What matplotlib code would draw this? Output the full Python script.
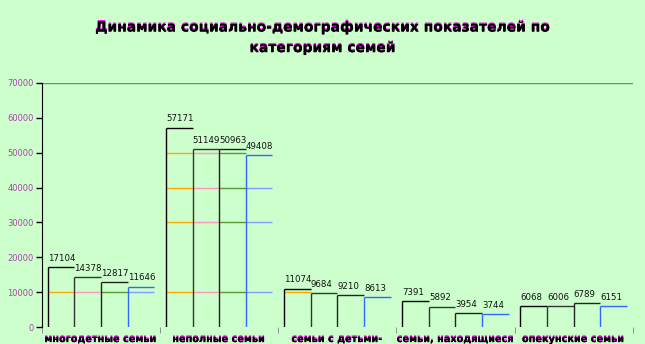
import numpy as np
import matplotlib.pyplot as plt
import matplotlib.patheffects as pe

# Данные
categories = ['многодетные семьи', 'неполные семьи', 'семьи с детьми-\nинвалидами',
              'семьи, находящиеся\nв СОП', 'опекунские семьи']
series_1 = [17104, 57171, 11074, 7391, 6068]
series_2 = [14378, 51149, 9684, 5892, 6006]
series_3 = [12817, 50963, 9210, 3954, 6789]
series_4 = [11646, 49408, 8613, 3744, 6151]
yticks = [0, 10000, 20000, 30000, 40000, 50000, 60000, 70000]

all_series = [series_1, series_2, series_3, series_4]
edge_colors = ['#000000', '#333333', '#222222', '#3366FF']
grid_colors = ['#FFAA00', '#FF99BB', '#559933', '#8899FF']
grid_levels = [10000, 30000, 40000, 50000]

bg = '#CCFFCC'
shadow = [pe.withSimplePatchShadow(offset=(0, 1), shadow_rgbFace='#FF00FF', alpha=1), pe.Normal()]

fig = plt.figure(figsize=(6.45, 3.44), dpi=100, facecolor=bg)
ax = fig.add_axes([0.065, 0.049, 0.916, 0.71])
ax.set_facecolor(bg)

x = np.arange(len(categories))
w = 0.225
for i, vals in enumerate(all_series):
    bars = ax.bar(x - 0.45 + i * w, vals, w, align='edge', fill=False, linewidth=0)
    for b, v in zip(bars, vals):
        x0 = b.get_x()
        x1 = x0 + b.get_width()
        # линии сетки, видимые внутри столбца
        for g in grid_levels:
            if g < v:
                ax.hlines(g, x0, x1, colors=grid_colors[i], lw=1)
        ax.vlines(x0, 0, v, colors=edge_colors[i], lw=1)
        ax.hlines(v, x0, x1, colors=edge_colors[i], lw=1)
        ax.annotate(str(v), (x0, v), xytext=(0, 3), textcoords='offset points',
                    ha='left', va='bottom', fontsize=6.2, color='#111111')

ax.axhline(70000, color='#808080', lw=1)
ax.set_xlim(-0.5, len(categories) - 0.5)
ax.set_ylim(0, 70000)
ax.set_yticks(yticks)
ax.set_yticklabels([str(t) for t in yticks], fontsize=6, color='#AA44AA')
ax.tick_params(axis='y', length=4, width=1, color='black', pad=2)

ax.set_xticks(x)
ax.set_xticklabels(categories, fontsize=7, fontweight='bold', color='black',
                   path_effects=shadow)
ax.set_xticks(np.arange(len(categories) + 1) - 0.5, minor=True)
ax.tick_params(axis='x', which='major', length=0, pad=5)
ax.tick_params(axis='x', which='minor', length=4, color='#808080')

for s in ['top', 'right', 'bottom']:
    ax.spines[s].set_visible(False)
ax.spines['left'].set_color('black')

fig.text(0.5, 0.89, 'Динамика социально-демографических показателей по\nкатегориям семей',
         ha='center', va='center', fontsize=10, fontweight='bold', linespacing=1.6,
         path_effects=shadow)

fig.savefig('out.png', dpi=100, facecolor=bg)
